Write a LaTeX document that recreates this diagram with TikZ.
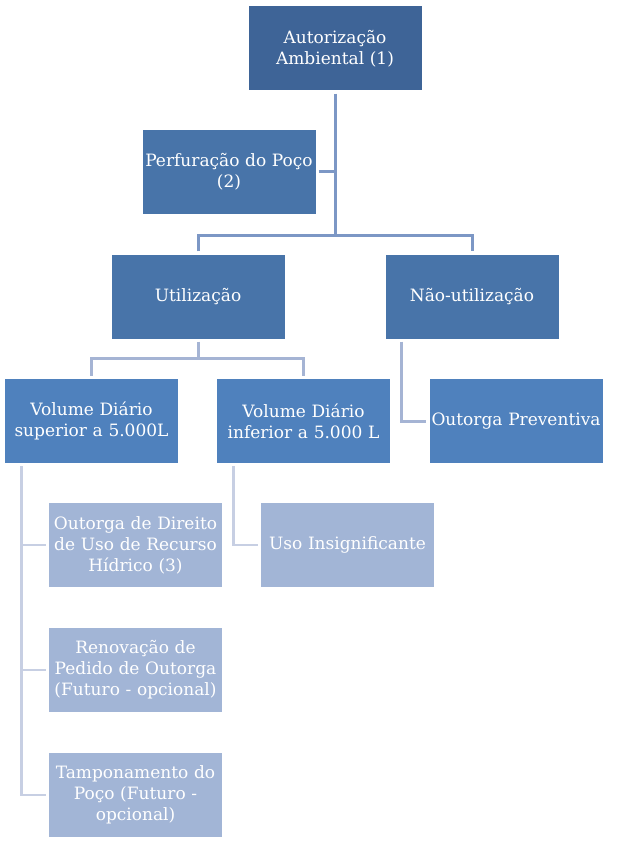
\documentclass[tikz,border=0pt]{standalone}
\usepackage{fontspec}
\setmainfont{DejaVu Serif}
\definecolor{boxA}{HTML}{3E6497}
\definecolor{boxB}{HTML}{4874A9}
\definecolor{boxC}{HTML}{4F81BD}
\definecolor{boxD}{HTML}{A2B5D6}
\definecolor{linkA}{HTML}{7C97C5}
\definecolor{linkB}{HTML}{A5B4D4}
\definecolor{linkC}{HTML}{C7CFE3}
\begin{document}
\begin{tikzpicture}[x=1pt,y=-1pt]
        \tikzstyle{every node}=[font=\fontsize{17}{21}\selectfont, text=white]
        \tikzstyle{box}=[minimum height=84pt, text width=173pt, inner sep=0pt, align=center]
        \tikzstyle{linkAline}=[draw=linkA, line width=3pt]
        \tikzstyle{linkBline}=[draw=linkB, line width=3pt]
        \tikzstyle{linkCline}=[draw=linkC, line width=2.5pt]
        \useasboundingbox (0,0) rectangle (618,842);
        \node[box, fill=boxA] (auth) at (335,48.5) {Autorização\\Ambiental (1)};
        \node[box, fill=boxB] (drill) at (229,172) {Perfuração do Poço\\(2)};
        \node[box, fill=boxB] (use) at (198,296.5) {Utilização};
        \node[box, fill=boxB] (nouse) at (472,296.5) {Não-utilização};
        \node[box, fill=boxC] (vsup) at (91.5,421) {Volume Diário\\superior a 5.000L};
        \node[box, fill=boxC] (vinf) at (303.5,421) {Volume Diário\\inferior a 5.000 L};
        \node[box, fill=boxC] (prev) at (516,421) {Outorga Preventiva};
        \node[box, fill=boxD] (grant) at (135.5,545) {Outorga de Direito\\de Uso de Recurso\\Hídrico (3)};
        \node[box, fill=boxD] (insig) at (347.5,545) {Uso Insignificante};
        \node[box, fill=boxD] (renew) at (135.5,670) {Renovação de\\Pedido de Outorga\\(Futuro - opcional)};
        \node[box, fill=boxD] (plug) at (135.5,795) {Tamponamento do\\Poço (Futuro -\\opcional)};
        \coordinate (authbar) at (335,235);
        \coordinate (usebar) at (198,358);
        \draw[linkAline] ([yshift=-3pt]auth.south) -- (authbar);
        \draw[linkAline] ([xshift=3pt]drill.east) -- (drill.east -| authbar);
        \draw[linkAline] ([yshift=3pt]use.north) |- (authbar) -| ([yshift=3pt]nouse.north);
        \draw[linkBline] ([yshift=-3pt]use.south) -- (usebar);
        \draw[linkBline] ([yshift=3pt]vsup.north) |- (usebar) -| ([yshift=3pt]vinf.north);
        \draw[linkBline] ([xshift=-71pt,yshift=-3pt]nouse.south) |- ([xshift=-3pt]prev.west);
        \foreach \n in {grant,renew,plug}
            \draw[linkCline] ([xshift=-70pt,yshift=-3pt]vsup.south) |- ([xshift=-3pt]\n.west);
        \draw[linkCline] ([xshift=-70pt,yshift=-3pt]vinf.south) |- ([xshift=-3pt]insig.west);
\end{tikzpicture}
\end{document}
